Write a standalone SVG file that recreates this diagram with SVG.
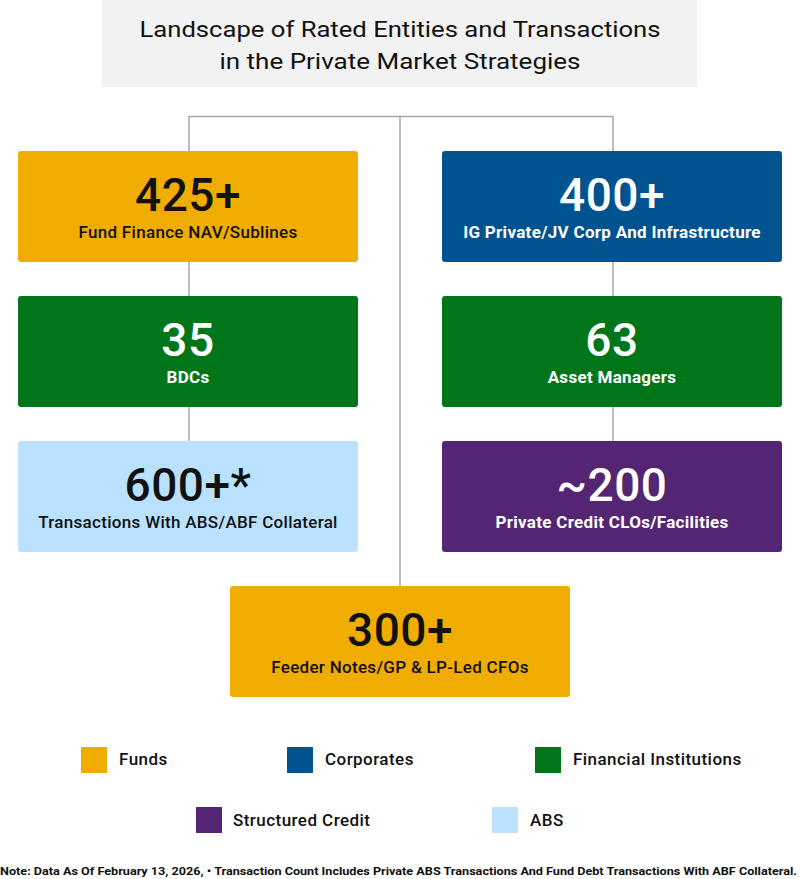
<svg xmlns="http://www.w3.org/2000/svg" width="800" height="879" viewBox="0 0 800 879">
<style>
.num{font-family:Roboto,"Liberation Sans",sans-serif;font-size:46px;font-weight:500;text-anchor:middle;letter-spacing:0.5px}
.lbl{font-family:Roboto,"Liberation Sans",sans-serif;font-size:17px;font-weight:500;text-anchor:middle;letter-spacing:0.3px}
.dark{fill:#111}
.light{fill:#fff}
.lightlbl{font-weight:700}
.leg{font-family:Roboto,"Liberation Sans",sans-serif;font-size:17px;font-weight:500;fill:#111;letter-spacing:0.45px}
.title{font-family:Roboto,"Liberation Sans",sans-serif;font-size:22px;font-weight:400;fill:#111;text-anchor:middle}
.conn line{stroke:#a6a6a6;stroke-width:1.5;fill:none}
.funds{fill:#F0AD00}
.corp{fill:#00538F}
.fi{fill:#007519}
.sc{fill:#542573}
.abs{fill:#BAE1FF}
</style>
<rect width="800" height="879" fill="#fff"/>
<g id="title">
<rect x="102" y="0" width="595" height="87" fill="#F2F2F2"/>
<text class="title" x="400" y="37" textLength="521" lengthAdjust="spacingAndGlyphs">Landscape of Rated Entities and Transactions</text>
<text class="title" x="400" y="69" textLength="361" lengthAdjust="spacingAndGlyphs">in the Private Market Strategies</text>
</g>
<g class="conn" id="connectors">
<line x1="189" y1="116.5" x2="613" y2="116.5"/>
<line x1="189" y1="116" x2="189" y2="151"/>
<line x1="189" y1="262" x2="189" y2="296"/>
<line x1="189" y1="407" x2="189" y2="441"/>
<line x1="400" y1="116" x2="400" y2="586"/>
<line x1="613" y1="116" x2="613" y2="151"/>
<line x1="613" y1="262" x2="613" y2="296"/>
<line x1="613" y1="407" x2="613" y2="441"/>
</g>
<g id="n425">
<rect class="funds" x="18" y="151" width="340" height="111" rx="3"/>
<text class="num dark" x="188" y="211">425+</text>
<text class="lbl dark" x="188" y="238">Fund Finance NAV/Sublines</text>
</g>
<g id="n35">
<rect class="fi" x="18" y="296" width="340" height="111" rx="3"/>
<text class="num light" x="188" y="356">35</text>
<text class="lbl light lightlbl" x="188" y="383">BDCs</text>
</g>
<g id="n600">
<rect class="abs" x="18" y="441" width="340" height="111" rx="3"/>
<text class="num dark" x="188" y="501">600+*</text>
<text class="lbl dark" x="188" y="528">Transactions With ABS/ABF Collateral</text>
</g>
<g id="n400">
<rect class="corp" x="442" y="151" width="340" height="111" rx="3"/>
<text class="num light" x="612" y="211">400+</text>
<text class="lbl light lightlbl" x="612" y="238">IG Private/JV Corp And Infrastructure</text>
</g>
<g id="n63">
<rect class="fi" x="442" y="296" width="340" height="111" rx="3"/>
<text class="num light" x="612" y="356">63</text>
<text class="lbl light lightlbl" x="612" y="383">Asset Managers</text>
</g>
<g id="n200">
<rect class="sc" x="442" y="441" width="340" height="111" rx="3"/>
<text class="num light" x="612" y="501">~200</text>
<text class="lbl light lightlbl" x="612" y="528">Private Credit CLOs/Facilities</text>
</g>
<g id="n300">
<rect class="funds" x="230" y="586" width="340" height="111" rx="3"/>
<text class="num dark" x="400" y="646">300+</text>
<text class="lbl dark" x="400" y="673">Feeder Notes/GP &amp; LP-Led CFOs</text>
</g>
<g id="legend">
<rect class="funds" x="81" y="747" width="26" height="26"/>
<text class="leg" x="119" y="765">Funds</text>
<rect class="corp" x="287" y="747" width="26" height="26"/>
<text class="leg" x="325" y="765">Corporates</text>
<rect class="fi" x="535" y="747" width="26" height="26"/>
<text class="leg" x="573" y="765">Financial Institutions</text>
<rect class="sc" x="196" y="807" width="26" height="26"/>
<text class="leg" x="233" y="826">Structured Credit</text>
<rect class="abs" x="492" y="807" width="26" height="26"/>
<text class="leg" x="530" y="826">ABS</text>
</g>
<text x="0" y="875" font-family="Roboto,'Liberation Sans',sans-serif" font-size="11" font-weight="700" fill="#111" textLength="797" lengthAdjust="spacingAndGlyphs">Note: Data As Of February 13, 2026, • Transaction Count Includes Private ABS Transactions And Fund Debt Transactions With ABF Collateral.</text>
</svg>
